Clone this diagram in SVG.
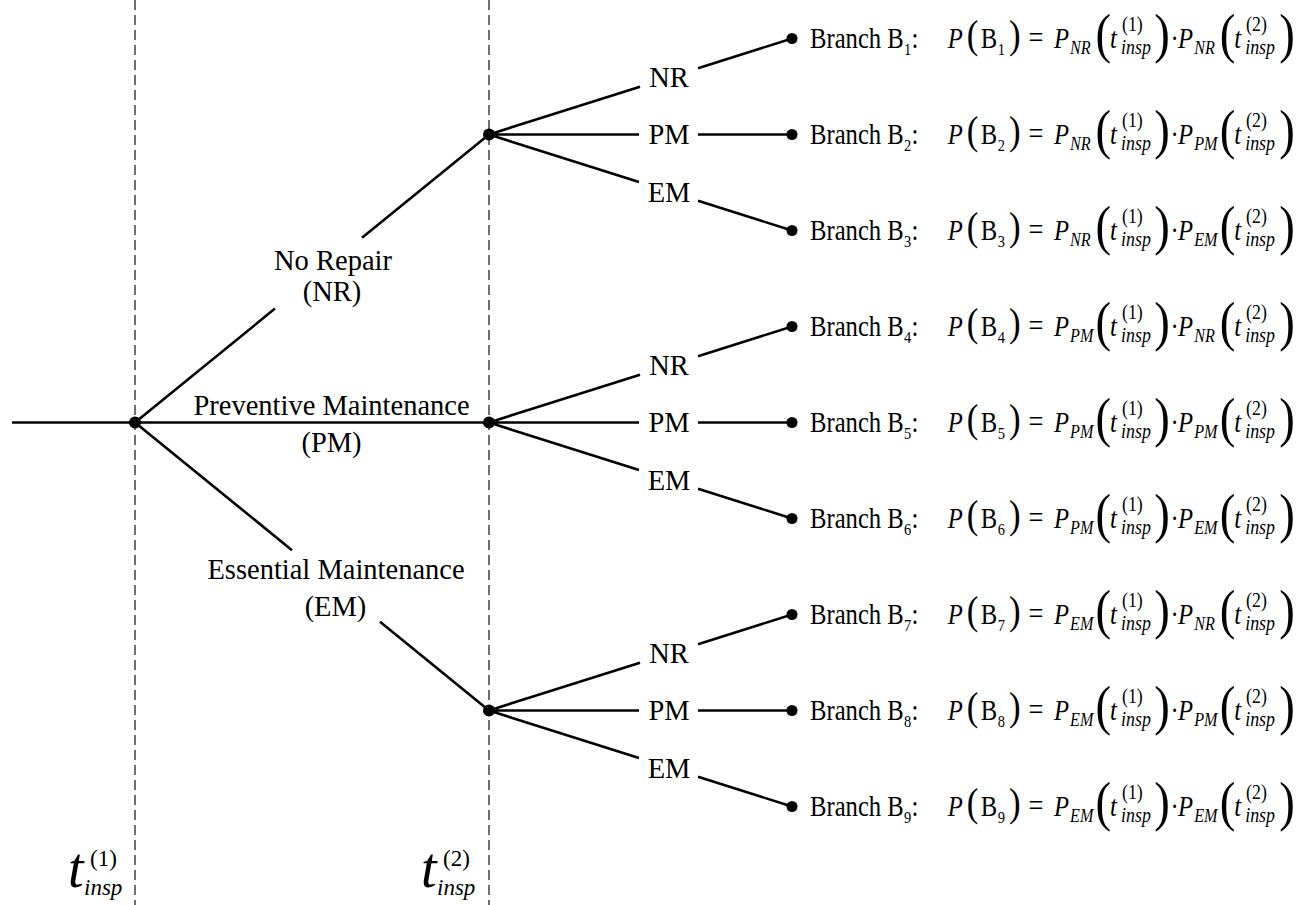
<svg xmlns="http://www.w3.org/2000/svg" width="1303" height="905" viewBox="0 0 1303 905">
<style>
.ln{stroke:#000;stroke-width:2.6;fill:none}
.dash{stroke:#222;stroke-width:1.3;stroke-dasharray:10 5;fill:none}
.dot{fill:#000}
.lbl{font-family:"Liberation Serif","Times New Roman",serif;font-size:28.5px;text-anchor:middle;fill:#000}
.f{font-family:"Liberation Serif","Times New Roman",serif;font-size:29px;fill:#000}
.i{font-style:italic}
.s{font-size:17px}
.si{font-size:19px;font-style:italic}
.p1{font-size:41px}
.p2{font-size:55px}
.eq{font-size:31px}
.sup{font-size:21px}
.si2{font-size:21px;font-style:italic}
.tb{font-size:56px;font-style:italic}
.tsup{font-size:23px}
.tsub{font-size:23px;font-style:italic}
</style>
<rect width="1303" height="905" fill="#fff"/>
<g id="timelines">
<line class="dash" x1="135" y1="0" x2="135" y2="905"/>
<line class="dash" x1="489" y1="0" x2="489" y2="905"/>
</g>
<g id="connectors">
<path class="ln" d="M12 422.5H135"/>
<path class="ln" d="M135 422.5L275 308.6M362 237.8L489 134.5"/>
<path class="ln" d="M135 422.5H489"/>
<path class="ln" d="M135 422.5L292 550.2M380 621.8L489 710.5"/>
<path class="ln" d="M489 134.5L640 86.7M698 68.3L792 38.5M489 134.5H639M698 134.5H792M489 134.5L639 182M698 200.7L792 230.5"/>
<path class="ln" d="M489 422.5L640 374.7M698 356.3L792 326.5M489 422.5H639M698 422.5H792M489 422.5L639 470M698 488.7L792 518.5"/>
<path class="ln" d="M489 710.5L640 662.7M698 644.3L792 614.5M489 710.5H639M698 710.5H792M489 710.5L639 758M698 776.7L792 806.5"/>
</g>
<g id="root"><circle class="dot" cx="135" cy="422.5" r="6"/></g>
<g id="label-nr"><text class="lbl" x="333" y="270">No Repair</text><text class="lbl" x="332" y="301">(NR)</text></g>
<g id="label-pm"><text class="lbl" x="331.5" y="415">Preventive Maintenance</text><text class="lbl" x="331.5" y="452">(PM)</text></g>
<g id="label-em"><text class="lbl" x="336" y="579">Essential Maintenance</text><text class="lbl" x="335.5" y="616">(EM)</text></g>
<g id="node-nr"><circle class="dot" cx="489" cy="134.5" r="6"/>
<text class="lbl" x="669" y="87">NR</text><text class="lbl" x="669" y="144">PM</text><text class="lbl" x="669" y="201.5">EM</text></g>
<g id="node-pm"><circle class="dot" cx="489" cy="422.5" r="6"/>
<text class="lbl" x="669" y="375">NR</text><text class="lbl" x="669" y="432">PM</text><text class="lbl" x="669" y="489.5">EM</text></g>
<g id="node-em"><circle class="dot" cx="489" cy="710.5" r="6"/>
<text class="lbl" x="669" y="663">NR</text><text class="lbl" x="669" y="720">PM</text><text class="lbl" x="669" y="777.5">EM</text></g>

<g id="leaf-b1"><circle class="dot" cx="792" cy="38.5" r="5.5"/>
<text class="f" transform="translate(810 47.5) scale(0.85 1)"><tspan x="0" y="0">Branch B</tspan><tspan class="s" x="110.5" y="7">1</tspan><tspan x="119.5" y="0">:</tspan><tspan class="i" x="162" y="0">P</tspan><tspan class="p1" x="184.5" y="0">(</tspan><tspan x="201" y="0">B</tspan><tspan class="s" x="221" y="7">1</tspan><tspan class="p1" x="234" y="0">)</tspan><tspan class="eq" x="257" y="0">=</tspan><tspan class="i" x="287" y="0">P</tspan><tspan class="si" x="306" y="6">NR</tspan><tspan class="p2" x="336" y="4.6">(</tspan><tspan class="i" x="353" y="0">t</tspan><tspan class="sup" x="367" y="-17">(1)</tspan><tspan class="si2" x="366" y="6">insp</tspan><tspan class="p2" x="405" y="4.6">)</tspan><tspan x="424" y="0">·</tspan><tspan class="i" x="433" y="0">P</tspan><tspan class="si" x="452" y="6">NR</tspan><tspan class="p2" x="482" y="4.6">(</tspan><tspan class="i" x="499" y="0">t</tspan><tspan class="sup" x="513" y="-17">(2)</tspan><tspan class="si2" x="512" y="6">insp</tspan><tspan class="p2" x="552" y="4.6">)</tspan></text></g>

<g id="leaf-b2"><circle class="dot" cx="792" cy="134.5" r="5.5"/>
<text class="f" transform="translate(810 143.5) scale(0.85 1)"><tspan x="0" y="0">Branch B</tspan><tspan class="s" x="110.5" y="7">2</tspan><tspan x="119.5" y="0">:</tspan><tspan class="i" x="162" y="0">P</tspan><tspan class="p1" x="184.5" y="0">(</tspan><tspan x="201" y="0">B</tspan><tspan class="s" x="221" y="7">2</tspan><tspan class="p1" x="234" y="0">)</tspan><tspan class="eq" x="257" y="0">=</tspan><tspan class="i" x="287" y="0">P</tspan><tspan class="si" x="306" y="6">NR</tspan><tspan class="p2" x="336" y="4.6">(</tspan><tspan class="i" x="353" y="0">t</tspan><tspan class="sup" x="367" y="-17">(1)</tspan><tspan class="si2" x="366" y="6">insp</tspan><tspan class="p2" x="405" y="4.6">)</tspan><tspan x="424" y="0">·</tspan><tspan class="i" x="433" y="0">P</tspan><tspan class="si" x="452" y="6">PM</tspan><tspan class="p2" x="482" y="4.6">(</tspan><tspan class="i" x="499" y="0">t</tspan><tspan class="sup" x="513" y="-17">(2)</tspan><tspan class="si2" x="512" y="6">insp</tspan><tspan class="p2" x="552" y="4.6">)</tspan></text></g>

<g id="leaf-b3"><circle class="dot" cx="792" cy="230.5" r="5.5"/>
<text class="f" transform="translate(810 239.5) scale(0.85 1)"><tspan x="0" y="0">Branch B</tspan><tspan class="s" x="110.5" y="7">3</tspan><tspan x="119.5" y="0">:</tspan><tspan class="i" x="162" y="0">P</tspan><tspan class="p1" x="184.5" y="0">(</tspan><tspan x="201" y="0">B</tspan><tspan class="s" x="221" y="7">3</tspan><tspan class="p1" x="234" y="0">)</tspan><tspan class="eq" x="257" y="0">=</tspan><tspan class="i" x="287" y="0">P</tspan><tspan class="si" x="306" y="6">NR</tspan><tspan class="p2" x="336" y="4.6">(</tspan><tspan class="i" x="353" y="0">t</tspan><tspan class="sup" x="367" y="-17">(1)</tspan><tspan class="si2" x="366" y="6">insp</tspan><tspan class="p2" x="405" y="4.6">)</tspan><tspan x="424" y="0">·</tspan><tspan class="i" x="433" y="0">P</tspan><tspan class="si" x="452" y="6">EM</tspan><tspan class="p2" x="482" y="4.6">(</tspan><tspan class="i" x="499" y="0">t</tspan><tspan class="sup" x="513" y="-17">(2)</tspan><tspan class="si2" x="512" y="6">insp</tspan><tspan class="p2" x="552" y="4.6">)</tspan></text></g>

<g id="leaf-b4"><circle class="dot" cx="792" cy="326.5" r="5.5"/>
<text class="f" transform="translate(810 335.5) scale(0.85 1)"><tspan x="0" y="0">Branch B</tspan><tspan class="s" x="110.5" y="7">4</tspan><tspan x="119.5" y="0">:</tspan><tspan class="i" x="162" y="0">P</tspan><tspan class="p1" x="184.5" y="0">(</tspan><tspan x="201" y="0">B</tspan><tspan class="s" x="221" y="7">4</tspan><tspan class="p1" x="234" y="0">)</tspan><tspan class="eq" x="257" y="0">=</tspan><tspan class="i" x="287" y="0">P</tspan><tspan class="si" x="306" y="6">PM</tspan><tspan class="p2" x="336" y="4.6">(</tspan><tspan class="i" x="353" y="0">t</tspan><tspan class="sup" x="367" y="-17">(1)</tspan><tspan class="si2" x="366" y="6">insp</tspan><tspan class="p2" x="405" y="4.6">)</tspan><tspan x="424" y="0">·</tspan><tspan class="i" x="433" y="0">P</tspan><tspan class="si" x="452" y="6">NR</tspan><tspan class="p2" x="482" y="4.6">(</tspan><tspan class="i" x="499" y="0">t</tspan><tspan class="sup" x="513" y="-17">(2)</tspan><tspan class="si2" x="512" y="6">insp</tspan><tspan class="p2" x="552" y="4.6">)</tspan></text></g>

<g id="leaf-b5"><circle class="dot" cx="792" cy="422.5" r="5.5"/>
<text class="f" transform="translate(810 431.5) scale(0.85 1)"><tspan x="0" y="0">Branch B</tspan><tspan class="s" x="110.5" y="7">5</tspan><tspan x="119.5" y="0">:</tspan><tspan class="i" x="162" y="0">P</tspan><tspan class="p1" x="184.5" y="0">(</tspan><tspan x="201" y="0">B</tspan><tspan class="s" x="221" y="7">5</tspan><tspan class="p1" x="234" y="0">)</tspan><tspan class="eq" x="257" y="0">=</tspan><tspan class="i" x="287" y="0">P</tspan><tspan class="si" x="306" y="6">PM</tspan><tspan class="p2" x="336" y="4.6">(</tspan><tspan class="i" x="353" y="0">t</tspan><tspan class="sup" x="367" y="-17">(1)</tspan><tspan class="si2" x="366" y="6">insp</tspan><tspan class="p2" x="405" y="4.6">)</tspan><tspan x="424" y="0">·</tspan><tspan class="i" x="433" y="0">P</tspan><tspan class="si" x="452" y="6">PM</tspan><tspan class="p2" x="482" y="4.6">(</tspan><tspan class="i" x="499" y="0">t</tspan><tspan class="sup" x="513" y="-17">(2)</tspan><tspan class="si2" x="512" y="6">insp</tspan><tspan class="p2" x="552" y="4.6">)</tspan></text></g>

<g id="leaf-b6"><circle class="dot" cx="792" cy="518.5" r="5.5"/>
<text class="f" transform="translate(810 527.5) scale(0.85 1)"><tspan x="0" y="0">Branch B</tspan><tspan class="s" x="110.5" y="7">6</tspan><tspan x="119.5" y="0">:</tspan><tspan class="i" x="162" y="0">P</tspan><tspan class="p1" x="184.5" y="0">(</tspan><tspan x="201" y="0">B</tspan><tspan class="s" x="221" y="7">6</tspan><tspan class="p1" x="234" y="0">)</tspan><tspan class="eq" x="257" y="0">=</tspan><tspan class="i" x="287" y="0">P</tspan><tspan class="si" x="306" y="6">PM</tspan><tspan class="p2" x="336" y="4.6">(</tspan><tspan class="i" x="353" y="0">t</tspan><tspan class="sup" x="367" y="-17">(1)</tspan><tspan class="si2" x="366" y="6">insp</tspan><tspan class="p2" x="405" y="4.6">)</tspan><tspan x="424" y="0">·</tspan><tspan class="i" x="433" y="0">P</tspan><tspan class="si" x="452" y="6">EM</tspan><tspan class="p2" x="482" y="4.6">(</tspan><tspan class="i" x="499" y="0">t</tspan><tspan class="sup" x="513" y="-17">(2)</tspan><tspan class="si2" x="512" y="6">insp</tspan><tspan class="p2" x="552" y="4.6">)</tspan></text></g>

<g id="leaf-b7"><circle class="dot" cx="792" cy="614.5" r="5.5"/>
<text class="f" transform="translate(810 623.5) scale(0.85 1)"><tspan x="0" y="0">Branch B</tspan><tspan class="s" x="110.5" y="7">7</tspan><tspan x="119.5" y="0">:</tspan><tspan class="i" x="162" y="0">P</tspan><tspan class="p1" x="184.5" y="0">(</tspan><tspan x="201" y="0">B</tspan><tspan class="s" x="221" y="7">7</tspan><tspan class="p1" x="234" y="0">)</tspan><tspan class="eq" x="257" y="0">=</tspan><tspan class="i" x="287" y="0">P</tspan><tspan class="si" x="306" y="6">EM</tspan><tspan class="p2" x="336" y="4.6">(</tspan><tspan class="i" x="353" y="0">t</tspan><tspan class="sup" x="367" y="-17">(1)</tspan><tspan class="si2" x="366" y="6">insp</tspan><tspan class="p2" x="405" y="4.6">)</tspan><tspan x="424" y="0">·</tspan><tspan class="i" x="433" y="0">P</tspan><tspan class="si" x="452" y="6">NR</tspan><tspan class="p2" x="482" y="4.6">(</tspan><tspan class="i" x="499" y="0">t</tspan><tspan class="sup" x="513" y="-17">(2)</tspan><tspan class="si2" x="512" y="6">insp</tspan><tspan class="p2" x="552" y="4.6">)</tspan></text></g>

<g id="leaf-b8"><circle class="dot" cx="792" cy="710.5" r="5.5"/>
<text class="f" transform="translate(810 719.5) scale(0.85 1)"><tspan x="0" y="0">Branch B</tspan><tspan class="s" x="110.5" y="7">8</tspan><tspan x="119.5" y="0">:</tspan><tspan class="i" x="162" y="0">P</tspan><tspan class="p1" x="184.5" y="0">(</tspan><tspan x="201" y="0">B</tspan><tspan class="s" x="221" y="7">8</tspan><tspan class="p1" x="234" y="0">)</tspan><tspan class="eq" x="257" y="0">=</tspan><tspan class="i" x="287" y="0">P</tspan><tspan class="si" x="306" y="6">EM</tspan><tspan class="p2" x="336" y="4.6">(</tspan><tspan class="i" x="353" y="0">t</tspan><tspan class="sup" x="367" y="-17">(1)</tspan><tspan class="si2" x="366" y="6">insp</tspan><tspan class="p2" x="405" y="4.6">)</tspan><tspan x="424" y="0">·</tspan><tspan class="i" x="433" y="0">P</tspan><tspan class="si" x="452" y="6">PM</tspan><tspan class="p2" x="482" y="4.6">(</tspan><tspan class="i" x="499" y="0">t</tspan><tspan class="sup" x="513" y="-17">(2)</tspan><tspan class="si2" x="512" y="6">insp</tspan><tspan class="p2" x="552" y="4.6">)</tspan></text></g>

<g id="leaf-b9"><circle class="dot" cx="792" cy="806.5" r="5.5"/>
<text class="f" transform="translate(810 815.5) scale(0.85 1)"><tspan x="0" y="0">Branch B</tspan><tspan class="s" x="110.5" y="7">9</tspan><tspan x="119.5" y="0">:</tspan><tspan class="i" x="162" y="0">P</tspan><tspan class="p1" x="184.5" y="0">(</tspan><tspan x="201" y="0">B</tspan><tspan class="s" x="221" y="7">9</tspan><tspan class="p1" x="234" y="0">)</tspan><tspan class="eq" x="257" y="0">=</tspan><tspan class="i" x="287" y="0">P</tspan><tspan class="si" x="306" y="6">EM</tspan><tspan class="p2" x="336" y="4.6">(</tspan><tspan class="i" x="353" y="0">t</tspan><tspan class="sup" x="367" y="-17">(1)</tspan><tspan class="si2" x="366" y="6">insp</tspan><tspan class="p2" x="405" y="4.6">)</tspan><tspan x="424" y="0">·</tspan><tspan class="i" x="433" y="0">P</tspan><tspan class="si" x="452" y="6">EM</tspan><tspan class="p2" x="482" y="4.6">(</tspan><tspan class="i" x="499" y="0">t</tspan><tspan class="sup" x="513" y="-17">(2)</tspan><tspan class="si2" x="512" y="6">insp</tspan><tspan class="p2" x="552" y="4.6">)</tspan></text></g>

<g id="time-1"><text class="f"><tspan class="tb" x="68" y="887">t</tspan><tspan class="tsup" x="90" y="866">(1)</tspan><tspan class="tsub" x="84" y="895">insp</tspan></text></g>
<g id="time-2"><text class="f"><tspan class="tb" x="421" y="887">t</tspan><tspan class="tsup" x="443" y="866">(2)</tspan><tspan class="tsub" x="437" y="895">insp</tspan></text></g>
</svg>
